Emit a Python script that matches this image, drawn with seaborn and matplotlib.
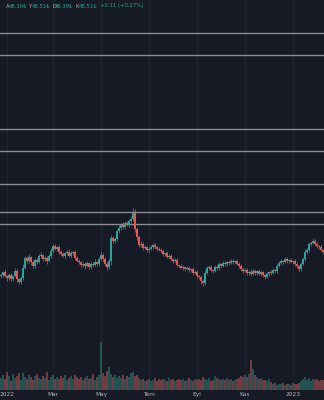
import matplotlib
matplotlib.use("Agg")
import matplotlib.pyplot as plt
import seaborn as sns
import numpy as np
import pandas as pd

# ---- data ----
first_open = 42.5
closes = [
    42.75, 43.5, 42.5, 42.0, 42.75, 41.75, 42.5, 43.75, 41.75, 41.0,
    42.0, 44.5, 47.0, 46.25, 47.25, 46.0, 45.0, 46.5, 46.0, 47.5,
    47.75, 46.75, 47.0, 46.25, 47.5, 48.75, 50.0, 49.25, 49.75, 48.5,
    48.0, 47.5, 48.25, 48.5, 47.5, 48.25, 48.5, 47.0, 46.25, 46.0,
    45.25, 45.5, 45.0, 45.75, 44.75, 45.5, 45.25, 46.0, 45.5, 46.75,
    47.75, 46.75, 45.5, 44.75, 46.25, 52.0, 51.25, 51.75, 53.75, 54.5,
    55.25, 54.75, 55.75, 55.25, 56.25, 56.75, 58.25, 54.25, 52.25, 50.25,
    50.5, 49.5, 49.75, 49.0, 49.25, 49.75, 50.25, 49.75, 49.25, 49.0,
    48.75, 48.0, 48.25, 47.25, 47.5, 46.75, 46.25, 46.5, 45.25, 45.0,
    44.5, 44.75, 44.25, 44.5, 44.0, 44.25, 43.25, 43.5, 42.5, 42.25,
    41.25, 40.75, 43.25, 44.5, 44.75, 44.0, 43.75, 44.75, 44.5, 45.5,
    45.0, 45.75, 45.5, 46.0, 45.75, 46.25, 46.0, 46.25, 45.5, 45.0,
    44.25, 43.75, 44.0, 43.25, 43.5, 43.0, 43.75, 43.25, 43.75, 43.0,
    43.5, 42.75, 42.25, 43.0, 43.5, 43.25, 44.0, 43.75, 45.0, 45.75,
    46.25, 46.0, 46.75, 46.25, 46.5, 46.0, 46.25, 45.5, 45.0, 44.25,
    45.5, 46.75, 48.5, 49.0, 50.5, 50.75, 51.25, 50.5, 50.0, 49.75,
    49.0, 48.5,
]
upper_wick = [
    0.5, 0.25, 0.75, 0.3, 0.5, 0.6, 0.25, 0.8, 0.4, 0.3,
    0.6, 0.9, 0.5, 0.4, 0.7, 0.3, 0.5, 0.6, 0.4, 0.5,
    0.8, 0.3, 0.5, 0.6, 0.4, 0.7, 0.5, 0.6, 0.3, 0.5,
    0.4, 0.6, 0.3, 0.5, 0.7, 0.4, 0.3, 0.5, 0.6, 0.4,
    0.3, 0.5, 0.4, 0.6, 0.3, 0.5, 0.4, 0.7, 0.3, 0.6,
    0.9, 0.5, 0.4, 0.6, 0.8, 0.7, 0.5, 0.6, 0.4, 0.8,
    0.5, 0.7, 0.4, 0.6, 0.5, 0.8, 1.2, 0.9, 0.6, 0.5,
    0.7, 0.4, 0.6, 0.3, 0.5, 0.6, 0.4, 0.5, 0.3, 0.6,
    0.4, 0.5, 0.3, 0.6, 0.4, 0.5, 0.3, 0.4, 0.6, 0.3,
    0.5, 0.4, 0.3, 0.5, 0.4, 0.3, 0.6, 0.4, 0.5, 0.3,
    0.4, 0.6, 0.8, 0.5, 0.4, 0.6, 0.3, 0.5, 0.4, 0.6,
    0.3, 0.5, 0.4, 0.3, 0.5, 0.6, 0.4, 0.3, 0.5, 0.4,
    0.6, 0.3, 0.5, 0.4, 0.6, 0.7, 0.5, 0.4, 0.3, 0.5,
    0.4, 0.3, 0.5, 0.4, 0.3, 0.5, 0.4, 0.3, 0.6, 0.5,
    0.4, 0.3, 0.5, 0.4, 0.3, 0.4, 0.3, 0.5, 0.4, 0.3,
    0.6, 0.5, 0.7, 0.4, 0.6, 0.5, 0.7, 0.4, 0.5, 0.3,
    0.4, 0.3,
]
lower_wick = [
    0.4, 0.6, 0.3, 0.7, 0.4, 0.5, 0.6, 0.3, 0.8, 0.6,
    0.4, 0.5, 0.3, 0.6, 0.4, 0.7, 0.6, 0.4, 0.5, 0.3,
    0.4, 0.6, 0.5, 0.7, 0.3, 0.4, 0.5, 0.3, 0.6, 0.4,
    0.5, 0.3, 0.6, 0.4, 0.3, 0.5, 0.4, 0.6, 0.3, 0.5,
    0.6, 0.4, 0.7, 0.3, 0.5, 0.4, 0.6, 0.3, 0.5, 0.4,
    0.6, 0.7, 0.5, 0.8, 0.6, 0.9, 0.5, 0.4, 0.6, 0.5,
    0.4, 0.6, 0.5, 0.3, 0.6, 0.4, 0.5, 0.8, 0.7, 0.6,
    0.5, 0.6, 0.3, 0.5, 0.4, 0.3, 0.5, 0.4, 0.6, 0.3,
    0.5, 0.4, 0.6, 0.3, 0.5, 0.4, 0.6, 0.3, 0.4, 0.5,
    0.3, 0.5, 0.4, 0.3, 0.6, 0.4, 0.5, 0.3, 0.6, 0.4,
    0.7, 0.8, 0.5, 0.3, 0.6, 0.4, 0.5, 0.3, 0.6, 0.4,
    0.5, 0.3, 0.6, 0.4, 0.5, 0.3, 0.4, 0.6, 0.3, 0.5,
    0.4, 0.6, 0.3, 0.5, 0.4, 0.6, 0.3, 0.5, 0.4, 0.3,
    0.5, 0.6, 0.4, 0.3, 0.5, 0.4, 0.3, 0.5, 0.4, 0.3,
    0.5, 0.4, 0.3, 0.5, 0.4, 0.3, 0.5, 0.4, 0.6, 0.5,
    0.4, 0.3, 0.5, 0.6, 0.4, 0.5, 0.3, 0.6, 0.4, 0.5,
    0.3, 0.4,
]
volumes = [
    2.4, 3.1, 2.2, 3.6, 2.8, 1.9, 3.2, 2.5, 2.9, 3.4,
    2.1, 3.5, 2.7, 2.3, 3.0, 2.6, 2.0, 2.8, 3.3, 2.4,
    2.2, 2.9, 2.5, 3.6, 2.1, 2.7, 3.0, 2.3, 2.6, 2.2,
    2.8, 2.4, 3.1, 2.0, 2.5, 2.9, 2.2, 3.0, 2.6, 2.3,
    2.7, 2.1, 2.5, 2.9, 2.2, 2.4, 3.2, 2.0, 2.6, 3.0,
    9.6, 3.4, 2.8, 3.9, 4.6, 3.3, 2.7, 3.0, 2.4, 2.8,
    2.5, 3.1, 2.3, 2.9, 2.6, 3.5, 3.7, 2.8, 3.0, 2.4,
    2.1, 2.3, 1.9, 2.0, 2.2, 1.8, 2.1, 2.4, 1.9, 2.2,
    2.0, 2.3, 2.1, 1.8, 2.4, 2.0, 2.2, 1.9, 2.1, 2.3,
    2.0, 2.2, 1.9, 2.1, 2.4, 2.0, 1.8, 2.2, 2.0, 2.3,
    2.1, 2.6, 2.2, 2.0, 2.4, 1.9, 2.1, 2.8, 2.5, 2.2,
    2.0, 2.3, 2.1, 2.4, 2.0, 2.2, 1.9, 2.1, 2.2, 2.5,
    2.8, 2.6, 3.0, 2.7, 3.3, 6.0, 4.2, 3.1, 2.6, 2.2,
    2.4, 2.0, 2.1, 1.8, 2.2, 1.6, 1.2, 1.4, 1.1, 1.3,
    1.2, 1.5, 1.1, 1.3, 1.2, 1.0, 1.4, 1.2, 1.3, 1.5,
    1.8, 2.2, 2.6, 2.1, 2.4, 1.9, 2.2, 2.0, 2.3, 1.9,
    2.1, 2.0,
]
level_lines = [103.25, 97.75, 79.25, 73.75, 65.5, 58.5, 55.5]
tick_index = [3, 26, 50, 74, 98, 122, 146]
tick_labels = ["2022", "Mar", "May", "Tem", "Eyl", "Kas", "2023"]
legend_parts = [("A", "48.39₺"), ("Y", "48.51₺"), ("D", "48.39₺"), ("K", "48.51₺")]
change_text = "+0.11 (+0.27%)"

# ---- styling ----
BG = "#161a25"
UP = "#26a69a"
DOWN = "#ef5350"
TXT = "#b2b5be"

sns.set_style("dark", {"axes.facecolor": BG, "figure.facecolor": BG})
plt.rcParams["font.family"] = ["DejaVu Sans"]

n = len(closes)
opens = [first_open] + closes[:-1]
df = pd.DataFrame({
    "idx": np.arange(n),
    "open": opens,
    "close": closes,
    "volume": volumes,
})
df["dir"] = np.where(df["close"] >= df["open"], "up", "down")
df["bottom"] = df[["open", "close"]].min(axis=1)
df["top"] = df[["open", "close"]].max(axis=1)
df["height"] = (df["close"] - df["open"]).abs().clip(lower=0.12)
df["high"] = df["top"] + np.array(upper_wick)
df["low"] = df["bottom"] - np.array(lower_wick)

fig = plt.figure(figsize=(3.24, 4.0), dpi=100, facecolor=BG)
ax = fig.add_axes([0, 10 / 400, 1, 390 / 400])
ax.set_facecolor(BG)

# volume on twin axis (drawn first so shared x ticks can be set afterwards)
ax2 = ax.twinx()
sns.barplot(data=df, x="idx", y="volume", hue="dir", native_scale=True,
            palette={"up": UP, "down": DOWN}, dodge=False, legend=False,
            errorbar=None, alpha=0.45, linewidth=0, width=0.8, ax=ax2)
ax2.set_ylim(0, 78)
ax2.set_yticks([])
ax2.set_ylabel("")
ax2.set_xlabel("")

# grid
for t in tick_index:
    ax.axvline(t, color="#1f2431", lw=0.8, zorder=0)

# level lines
for lv in level_lines:
    ax.axhline(lv, color="#8a8d96", lw=1.0, zorder=1)

# candles
colors = [UP if d == "up" else DOWN for d in df["dir"]]
ax.vlines(df["idx"], df["low"], df["high"], colors=colors, lw=0.5, zorder=2)
ax.bar(df["idx"], df["height"], bottom=df["bottom"], width=0.6,
       color=colors, linewidth=0, zorder=3)

ax.set_xlim(-0.5, n - 0.5)
ax.set_ylim(14.0, 111.5)
ax.set_yticks([])
ax.set_xticks(tick_index)
ax.set_xticklabels(tick_labels)
ax.tick_params(axis="x", colors=TXT, labelsize=4.2, length=0, pad=1.5,
               labelbottom=True)
ax.set_xlabel("")
for a in (ax, ax2):
    for s in a.spines.values():
        s.set_visible(False)

# legend header
x = 6
y = 1 - 6 / 400
for letter, val in legend_parts:
    fig.text(x / 324, y, letter, color=TXT, fontsize=3.8, va="center", ha="left")
    fig.text((x + 2.6) / 324, y, val, color=UP, fontsize=3.8, va="center", ha="left")
    x += 23.3
fig.text(100 / 324, y, change_text, color=UP, fontsize=3.8, va="center", ha="left")

fig.savefig("out.png", dpi=100, facecolor=BG)
